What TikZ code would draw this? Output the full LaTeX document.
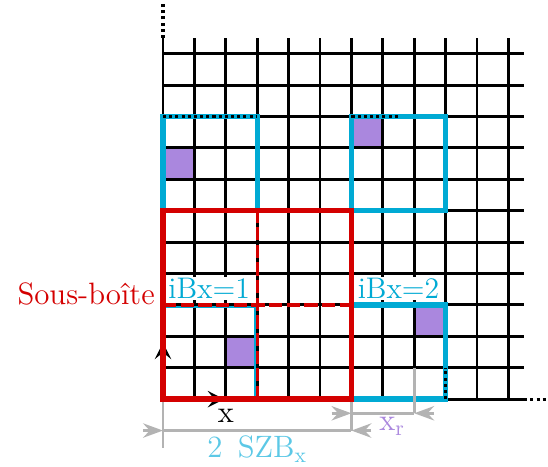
\documentclass[tikz,border=0pt]{standalone}
\usepackage{tikz}
\usetikzlibrary{arrows.meta,positioning}
\definecolor{boxred}{HTML}{D40000}
\definecolor{boxcyan}{HTML}{00AAD4}
\definecolor{szbcyan}{HTML}{5CC8E6}
\definecolor{cellpurple}{HTML}{AA87DE}
\definecolor{dimgray}{HTML}{B3B3B3}

\begin{document}
\begin{tikzpicture}[x=0.5cm,y=0.5cm,font=\fontsize{14}{16}\selectfont,
  gridline/.style={line width=1.3pt},
  dotline/.style={line width=1.4pt,dash pattern=on 1.4pt off 1.4pt},
  redbox/.style={draw=boxred,line width=2.5pt},
  reddash/.style={draw=boxred,line width=1.5pt,dash pattern=on 6pt off 2pt},
  cyanbox/.style={draw=boxcyan,line width=2.4pt},
  thincyan/.style={draw=boxcyan,line width=1pt},
  axisarrow/.style={line width=1pt,-{Stealth[length=7.5pt,width=7.5pt,inset=3pt]}},
  dimline/.style={draw=dimgray,line width=1.3pt},
  dimtip/.style={dimline,-{Stealth[length=9pt,width=6.5pt,inset=3pt]}},
  boxlabel/.style={text=boxcyan,fill=white,anchor=base,inner xsep=1pt,inner ysep=0.5pt,font=\fontsize{13.5}{15}\selectfont}]
  \useasboundingbox (-5.19,-2.13) rectangle (12.26,12.71);
  \foreach \cx/\cy in {0/7,6/8,2/1,8/2} {
    \fill[cellpurple] (\cx,\cy) rectangle ++(1,1);
  }
  \draw[gridline,step=0.5cm] (0,0) grid (11.5,11.5);
  \draw[dotline] (0,11.5) -- (0,12.6);
  \draw[dotline] (11.5,0) -- (12.25,0);
  \coordinate (O) at (0,0);
  \coordinate (xend) at (1.95,0);
  \coordinate (yend) at (0,1.8);
  \draw[axisarrow] (O) -- (xend);
  \draw[axisarrow] (O) -- (yend);
  \draw[thincyan] (0.05,0.05) rectangle (2.94,2.94);
  \draw[cyanbox] (0,6) rectangle (3,9);
  \draw[cyanbox] (6,6) rectangle (9,9);
  \draw[cyanbox] (6,0) rectangle (9,3);
  \draw[reddash] (3,0) -- (3,6);
  \draw[reddash] (0,3) -- (6,3);
  \draw[redbox] (0,0) rectangle (6,6);
  \draw[dotline] (0,9) -- (3,9);
  \draw[dotline] (6,9) -- (7.5,9);
  \draw[dotline] (9,0) -- (9,1);
  \coordinate (szbL) at (0,-1);
  \coordinate (szbR) at (6,-1);
  \coordinate (xrL) at (6,-0.45);
  \coordinate (xrR) at (8,-0.45);
  \draw[dimline] (0,-0.1) -- (0,-1.55);
  \draw[dimline] (6,-0.1) -- (szbR);
  \draw[dimline] (szbL) -- (szbR);
  \draw[dimtip] ([xshift=-9pt]szbL) -- (szbL);
  \draw[dimtip] ([xshift=9pt]szbR) -- (szbR);
  \draw[dimline] (8,1) -- (xrR);
  \draw[dimline] (xrL) -- (xrR);
  \draw[dimtip] ([xshift=-9pt]xrL) -- (xrL);
  \draw[dimtip] ([xshift=9pt]xrR) -- (xrR);
  \node[text=boxred,anchor=base east,inner sep=0pt] (sousboite) at (-0.25,3) {Sous-boîte};
  \node[boxlabel] (ibxa) at (1.47,3.2) {iBx=1};
  \node[boxlabel] (ibxb) at (7.5,3.2) {iBx=2};
  \node[anchor=base,inner sep=0pt] (xlab) at (2,-0.73) {x};
  \node[text=szbcyan,anchor=base,inner sep=0pt] (szb) at (3,-1.85) {2\hspace{0.5em}SZB\textsubscript{x}};
  \node[text=cellpurple,anchor=base,inner sep=0pt] (xr) at (7.3,-1) {x\textsubscript{r}};
\end{tikzpicture}
\end{document}
